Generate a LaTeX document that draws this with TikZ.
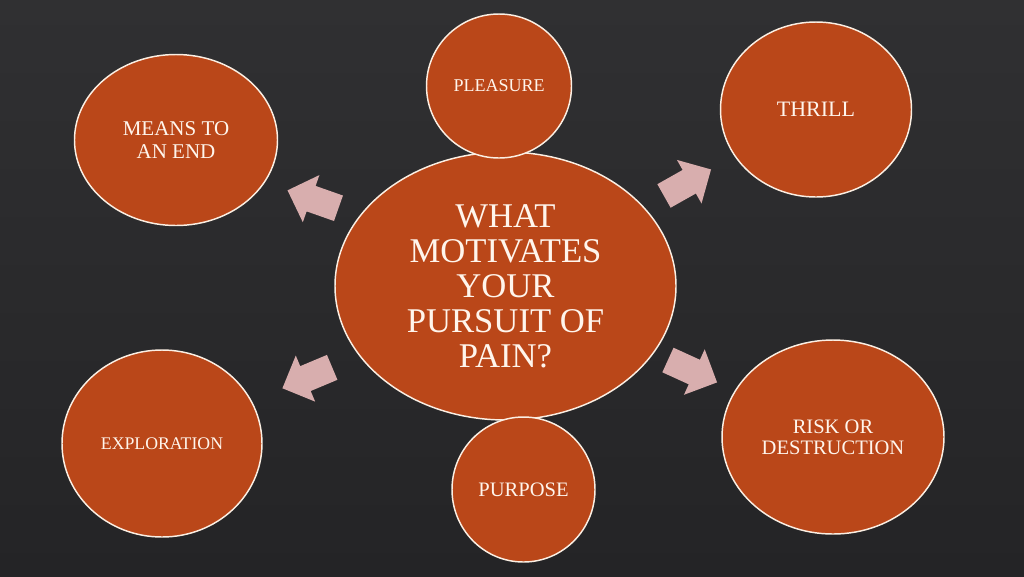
\documentclass[tikz,border=0pt]{standalone}
\usepackage{fontspec}
\setmainfont{Liberation Serif}
\usetikzlibrary{shapes.geometric}
\definecolor{bgtop}{HTML}{303032}
\definecolor{bgbot}{HTML}{242426}
\definecolor{bubblefill}{HTML}{BA4719}
\definecolor{bubbleline}{HTML}{FBEFE3}
\definecolor{arrowpink}{HTML}{D8AEAE}
\definecolor{txt}{HTML}{FFF5EC}
\begin{document}
\begin{tikzpicture}[x=0.75pt,y=-0.75pt,
  bubble/.style={ellipse, draw=bubbleline, line width=1.1pt, fill=bubblefill, text=txt, align=center, inner sep=0pt},
  sz/.style 2 args={minimum width=0.75pt*#1, minimum height=0.75pt*#2},
  blockarrow/.pic={\fill[arrowpink] (-27,-13.5) -- (2,-13.5) -- (2,-25) -- (27,0) -- (2,25) -- (2,13.5) -- (-27,13.5) -- cycle;}
]
\useasboundingbox (0,0) rectangle (1024,576);
\shade[top color=bgtop, bottom color=bgbot] (0,0) rectangle (1024,576);

\node[bubble, sz={341}{268}, font=\fontsize{26}{26.2}\selectfont] (center) at (505.5,286) {WHAT\\MOTIVATES\\YOUR\\PURSUIT OF\\PAIN?};
\node[bubble, sz={145}{144}, font=\fontsize{13.5}{15}\selectfont] (pleasure) at (499,86) {PLEASURE};
\node[bubble, sz={191}{175}, font=\fontsize{16.5}{18}\selectfont] (thrill) at (816,109.5) {THRILL};
\node[bubble, sz={203}{171}, font=\fontsize{15.75}{17.25}\selectfont] (means) at (176,140) {MEANS TO\\AN END};
\node[bubble, sz={200}{187}, font=\fontsize{13.3}{15}\selectfont] (explore) at (162,443.5) {EXPLORATION};
\node[bubble, sz={222}{194}, font=\fontsize{15.4}{15.75}\selectfont] (risk) at (833,437) {RISK OR\\DESTRUCTION};
\node[bubble, sz={143}{145}, font=\fontsize{15.4}{17}\selectfont] (purpose) at (523.5,489.5) {PURPOSE};

\pic[rotate=160.6] at (313,199.3) {blockarrow};
\pic[rotate=29.4] at (687.5,182.7) {blockarrow};
\pic[rotate=202.8] at (307.3,377.8) {blockarrow};
\pic[rotate=-24.5] at (692.5,371.2) {blockarrow};
\end{tikzpicture}
\end{document}
